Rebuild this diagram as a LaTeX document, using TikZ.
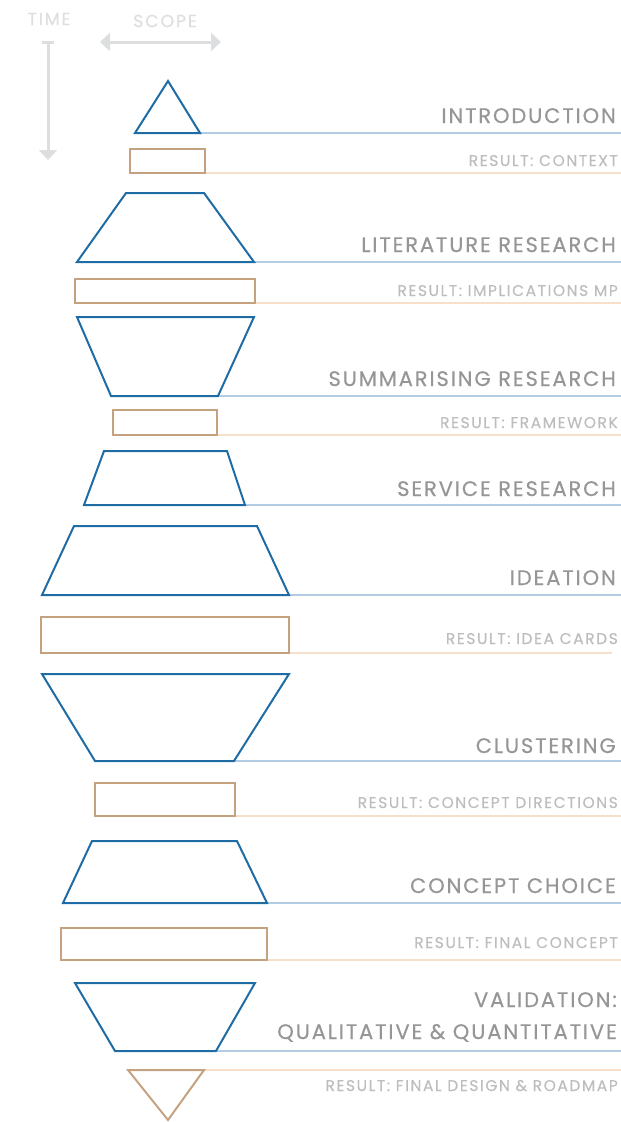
\documentclass[tikz,border=0pt]{standalone}
\usepackage{fontspec}
\setmainfont{Poppins}
\newfontfamily\headfont{Poppins}[LetterSpace=9,FakeBold=0.5]
\newfontfamily\resfont{Poppins}[LetterSpace=10,FakeBold=0.3]
\usetikzlibrary{arrows.meta}
\definecolor{phase}{HTML}{1F6CA5}
\definecolor{phaseline}{HTML}{B3CBE3}
\definecolor{res}{HTML}{C4A27F}
\definecolor{resline}{HTML}{F6DFCB}
\definecolor{headtxt}{HTML}{969696}
\definecolor{restxt}{HTML}{BDBDBD}
\definecolor{axis}{HTML}{DCDEDF}
\tikzset{
  phaseshape/.style={draw=phase, line width=2pt, line join=miter},
  resshape/.style={draw=res, line width=2pt},
  phaseguide/.style={draw=phaseline, line width=2pt},
  resguide/.style={draw=resline, line width=2pt},
  headlabel/.style={anchor=base east, inner sep=0pt, text=headtxt, font=\headfont\fontsize{21}{24}\selectfont},
  reslabel/.style={anchor=base east, inner sep=0pt, text=restxt, font=\resfont\fontsize{15.5}{18}\selectfont},
  axislabel/.style={anchor=center, inner sep=0pt, text=axis, font=\resfont\fontsize{17.5}{20}\selectfont},
  axisarrow/.style={draw=axis, line width=3pt},
}
\begin{document}
\begin{tikzpicture}[x=1pt,y=-1pt]
\useasboundingbox (0,0) rectangle (621,1122);
% axes
\node[axislabel] (time) at (49,19) {TIME};
\node[axislabel] (scope) at (165,21) {SCOPE};
\coordinate (t0) at (48,41); \coordinate (t1) at (48,160);
\draw[axisarrow, {Bar[width=12pt]}-{Triangle[width=18pt,length=10pt]}] (t0) -- (t1);
\coordinate (s0) at (100,42); \coordinate (s1) at (221,42);
\draw[axisarrow, {Triangle[width=18pt,length=10pt]}-{Triangle[width=18pt,length=10pt]}] (s0) -- (s1);

% INTRODUCTION
\draw[phaseguide] (200,133) coordinate (g1) -- (621,133) coordinate (g1e);
\draw[phaseshape] (168,81) -- (200,133) -- (135,133) -- cycle;
\node[headlabel] (l1) at (616,123) {INTRODUCTION};
\draw[resguide] (205,173) -- (621,173);
\draw[resshape] (130,149) rectangle (205,173);
\node[reslabel] (r1) at (618,166) {RESULT: CONTEXT};

% LITERATURE
\draw[phaseguide] (254,262) -- (621,262);
\draw[phaseshape] (126,193) -- (204,193) -- (254,262) -- (77,262) -- cycle;
\node[headlabel] (l2) at (616,252) {LITERATURE RESEARCH};
\draw[resguide] (255,303) -- (621,303);
\draw[resshape] (75,279) rectangle (255,303);
\node[reslabel] (r2) at (618,296) {RESULT: IMPLICATIONS MP};

% SUMMARISING
\draw[phaseguide] (218,396) -- (621,396);
\draw[phaseshape] (77,317) -- (254,317) -- (218,396) -- (111,396) -- cycle;
\node[headlabel] (l3) at (616,386) {SUMMARISING RESEARCH};
\draw[resguide] (217,435) -- (621,435);
\draw[resshape] (113,410) rectangle (217,435);
\node[reslabel] (r3) at (618,428) {RESULT: FRAMEWORK};

% SERVICE
\draw[phaseguide] (245,505) -- (621,505);
\draw[phaseshape] (104,451) -- (227,451) -- (245,505) -- (84,505) -- cycle;
\node[headlabel] (l4) at (616,496) {SERVICE RESEARCH};

% IDEATION
\draw[phaseguide] (289,595) -- (621,595);
\draw[phaseshape] (74,526) -- (257,526) -- (289,595) -- (42,595) -- cycle;
\node[headlabel] (l5) at (616,585) {IDEATION};
\draw[resguide] (289,653) -- (612,653);
\draw[resshape] (41,617) rectangle (289,653);
\node[reslabel] (r5) at (618,644) {RESULT: IDEA CARDS};

% CLUSTERING
\draw[phaseguide] (234,761) -- (621,761);
\draw[phaseshape] (42,674) -- (289,674) -- (234,761) -- (95,761) -- cycle;
\node[headlabel] (l6) at (616,753) {CLUSTERING};
\draw[resguide] (235,816) -- (621,816);
\draw[resshape] (95,783) rectangle (235,816);
\node[reslabel] (r6) at (618,808) {RESULT: CONCEPT DIRECTIONS};

% CONCEPT CHOICE
\draw[phaseguide] (267,903) -- (621,903);
\draw[phaseshape] (92,841) -- (237,841) -- (267,903) -- (63,903) -- cycle;
\node[headlabel] (l7) at (616,893) {CONCEPT CHOICE};
\draw[resguide] (267,960) -- (621,960);
\draw[resshape] (61,928) rectangle (267,960);
\node[reslabel] (r7) at (618,948) {RESULT: FINAL CONCEPT};

% VALIDATION
\draw[phaseguide] (216,1051) -- (621,1051);
\draw[phaseshape] (75,983) -- (255,983) -- (216,1051) -- (115,1051) -- cycle;
\node[headlabel] (l8a) at (617,1007) {VALIDATION:};
\node[headlabel] (l8b) at (617,1039) {QUALITATIVE \& QUANTITATIVE};
\draw[resguide] (204,1070) -- (621,1070);
\draw[resshape] (128,1070) -- (204,1070) -- (168,1120) -- cycle;
\node[reslabel] (r8) at (618,1091) {RESULT: FINAL DESIGN \& ROADMAP};
\end{tikzpicture}
\end{document}
